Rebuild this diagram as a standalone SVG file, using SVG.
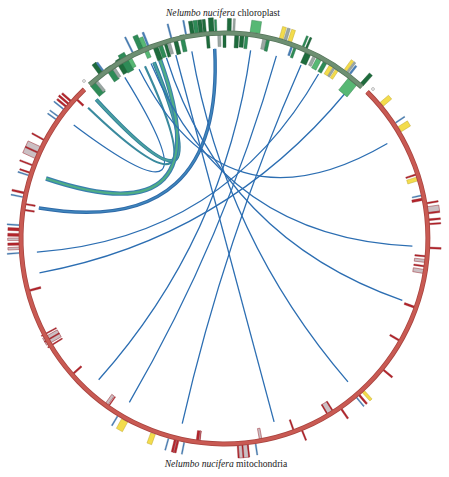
<svg xmlns="http://www.w3.org/2000/svg" width="449" height="477" viewBox="0 0 449 477">
<style>
.lk{fill:none;stroke:#2c6eb2;stroke-width:1.3}
.g1{fill:#1e6b3c;stroke:#15502c;stroke-width:.4}
.g2{fill:#2e8b57;stroke:#1f6a40;stroke-width:.4}
.g3{fill:#57b874;stroke:#2f7a48;stroke-width:.4}
.gr{fill:#9ba7a3;stroke:#6f7c78;stroke-width:.4}
.ye{fill:#f3dc4c;stroke:#b8a02a;stroke-width:.4}
.bl{fill:#4a7fb5;stroke:#3a6a9a;stroke-width:.3}
.r{fill:#b3242b;stroke:#8a181e;stroke-width:.3}
.pg{fill:#cbbfc3;stroke:#a0313a;stroke-width:.5}
.t{font-family:"Liberation Serif","Times New Roman",serif;font-size:9.6px;fill:#222;text-anchor:middle}
</style>
<rect width="449" height="477" fill="#fff"/>
<text class="t" x="223" y="16"><tspan font-style="italic">Nelumbo nucifera</tspan> chloroplast</text>
<text class="t" x="226" y="467"><tspan font-style="italic">Nelumbo nucifera</tspan> mitochondria</text>
<g transform="translate(224.5,238.5) scale(0.99,1)">
<g id="links">
<path class="lk" d="M-152.3 -113.5Q0 0 -100.7 -161.1"/>
<path d="M-137.8 -130.8Q0 0 -80.3 -172.2" fill="none" stroke="#3a8a9e" stroke-width="2.2"/>
<path d="M-129.6 -139Q0 0 -71.2 -176.2" fill="none" stroke="#2f7d9a" stroke-width="4"/>
<path d="M-129.6 -139Q0 0 -71.2 -176.2" fill="none" stroke="#4aa0a0" stroke-width="2"/>
<path d="M-180.3 -60Q0 0 -65 -178.5" fill="none" stroke="#3a7fae" stroke-width="4.5"/>
<path d="M-180.3 -60Q0 0 -65 -178.5" fill="none" stroke="#4fae86" stroke-width="2.2"/>
<path d="M-187.5 -30.4Q0 0 -9.9 -189.7" fill="none" stroke="#2f6aa8" stroke-width="3.5"/>
<path d="M-187.5 -30.4Q0 0 -9.9 -189.7" fill="none" stroke="#3f86bd" stroke-width="1.5"/>
<path class="lk" d="M-189.5 13.6Q0 0 95 -164.5"/>
<path class="lk" d="M-186.9 34.3Q0 0 122.1 -145.5"/>
<path class="lk" d="M-127.1 141.2Q0 0 26.4 -188.2"/>
<path class="lk" d="M-96.1 163.9Q0 0 52.4 -182.6"/>
<path class="lk" d="M-42.7 185.1Q0 0 77.3 -173.6"/>
<path class="lk" d="M50.1 183.3Q0 0 -49.2 -183.5"/>
<path class="lk" d="M124.7 143.4Q0 0 -33 -187.1"/>
<path class="lk" d="M179.6 61.9Q0 0 -58.7 -180.7"/>
<path class="lk" d="M189.8 7.6Q0 0 -74.2 -174.9"/>
<path class="lk" d="M164.5 -95Q0 0 -86.3 -169.3"/>
</g>
<g id="chloroplast-genes">
<rect class="g2" x="190" y="-4" width="14" height="8" transform="rotate(-130.5)"/>
<rect class="gr" x="191" y="-1.5" width="12" height="3" transform="rotate(-129.5)"/>
<rect class="g1" x="207" y="-2.5" width="12" height="5" transform="rotate(-127)"/>
<rect class="bl" x="208" y="-1" width="10" height="2" transform="rotate(-126.2)"/>
<rect class="g2" x="192" y="-3" width="16" height="6" transform="rotate(-124.5)"/>
<rect class="gr" x="193" y="-1.5" width="13" height="3" transform="rotate(-123.3)"/>
<rect class="g1" x="193" y="-3" width="16" height="6" transform="rotate(-121)"/>
<rect class="g2" x="192" y="-3.5" width="20" height="7" transform="rotate(-119.5)"/>
<rect class="g3" x="194" y="-2" width="14" height="4" transform="rotate(-118)"/>
<rect class="bl" x="208" y="-.75" width="17" height="1.5" transform="rotate(-116.5)"/>
<rect class="g2" x="205" y="-2.5" width="17" height="5" transform="rotate(-114)"/>
<rect class="g3" x="196" y="-2" width="22" height="4" transform="rotate(-112.8)"/>
<rect class="bl" x="207" y="-1" width="15" height="2" transform="rotate(-111.8)"/>
<rect class="g1" x="190" y="-2.5" width="14" height="5" transform="rotate(-110)"/>
<rect class="g2" x="191" y="-2" width="13" height="4" transform="rotate(-108.5)"/>
<rect class="g1" x="190" y="-1.5" width="14" height="3" transform="rotate(-107)"/>
<rect class="gr" x="192" y="-1.5" width="13" height="3" transform="rotate(-106)"/>
<rect class="bl" x="207" y="-.75" width="15" height="1.5" transform="rotate(-105)"/>
<rect class="g1" x="190" y="-2" width="17" height="4" transform="rotate(-104)"/>
<rect class="g2" x="191" y="-2" width="17" height="4" transform="rotate(-102)"/>
<rect class="bl" x="208" y="-.75" width="14" height="1.5" transform="rotate(-100.8)"/>
<rect class="g1" x="207" y="-2" width="13" height="4" transform="rotate(-99)"/>
<rect class="g2" x="207" y="-2" width="13" height="4" transform="rotate(-97.8)"/>
<rect class="g1" x="207" y="-2" width="13" height="4" transform="rotate(-96.6)"/>
<rect class="g1" x="207" y="-1.5" width="13" height="3" transform="rotate(-95.5)"/>
<rect class="g1" x="191" y="-1.5" width="13" height="3" transform="rotate(-94.8)"/>
<rect class="g1" x="207" y="-2.5" width="14" height="5" transform="rotate(-93.6)"/>
<rect class="g2" x="207" y="-1" width="12" height="2" transform="rotate(-92.4)"/>
<rect class="gr" x="192" y="-1.5" width="12" height="3" transform="rotate(-91.5)"/>
<rect class="g1" x="191" y="-1.5" width="13" height="3" transform="rotate(-90)"/>
<rect class="g1" x="207" y="-2" width="13" height="4" transform="rotate(-88.7)"/>
<rect class="gr" x="207" y="-1" width="13" height="2" transform="rotate(-87.4)"/>
<rect class="g1" x="191" y="-2" width="13" height="4" transform="rotate(-86.5)"/>
<rect class="g1" x="192" y="-2" width="12" height="4" transform="rotate(-85)"/>
<rect class="g2" x="191" y="-1.5" width="13" height="3" transform="rotate(-83.7)"/>
<rect class="g3" x="208" y="-5" width="12" height="10" transform="rotate(-81.5)"/>
<rect class="gr" x="193" y="-2" width="11" height="4" transform="rotate(-78.5)"/>
<rect class="g2" x="192" y="-1.5" width="12" height="3" transform="rotate(-77.5)"/>
<rect class="ye" x="208" y="-2" width="12" height="4" transform="rotate(-74)"/>
<rect class="gr" x="208" y="-1.5" width="12" height="3" transform="rotate(-72.8)"/>
<rect class="ye" x="208" y="-2" width="12" height="4" transform="rotate(-71.5)"/>
<rect class="bl" x="194" y="-1" width="10" height="2" transform="rotate(-70.5)"/>
<rect class="g2" x="193" y="-1.25" width="11" height="2.5" transform="rotate(-69.5)"/>
<rect class="g2" x="207" y="-1" width="12" height="2" transform="rotate(-67.5)"/>
<rect class="g1" x="207" y="-1" width="12" height="2" transform="rotate(-66.5)"/>
<rect class="g1" x="192" y="-3" width="12" height="6" transform="rotate(-65.5)"/>
<rect class="gr" x="193" y="-1.5" width="11" height="3" transform="rotate(-63.5)"/>
<rect class="g3" x="192" y="-2.5" width="12" height="5" transform="rotate(-62)"/>
<rect class="g2" x="192" y="-2" width="12" height="4" transform="rotate(-60)"/>
<rect class="ye" x="193" y="-2" width="11" height="4" transform="rotate(-58)"/>
<rect class="gr" x="193" y="-1" width="11" height="2" transform="rotate(-57)"/>
<rect class="ye" x="193" y="-1.5" width="11" height="3" transform="rotate(-56)"/>
<rect class="ye" x="208" y="-1.5" width="12" height="3" transform="rotate(-54)"/>
<rect class="gr" x="208" y="-1" width="12" height="2" transform="rotate(-53.2)"/>
<rect class="bl" x="208" y="-1" width="10" height="2" transform="rotate(-52.4)"/>
<rect class="g3" x="188" y="-5.5" width="16" height="11" transform="rotate(-50.5)"/>
<rect class="g1" x="207" y="-2" width="14" height="4" transform="rotate(-48)"/>
</g>
<g id="mitochondria-genes">
<rect class="r" x="207" y="-1" width="12" height="2" transform="rotate(-140.5)"/>
<rect class="r" x="207" y="-1" width="13" height="2" transform="rotate(-139.5)"/>
<rect class="r" x="207" y="-1" width="12" height="2" transform="rotate(-138.5)"/>
<rect class="bl" x="208" y="-.6" width="12" height="1.2" transform="rotate(-141.5)"/>
<rect class="r" x="195" y="-1" width="9" height="2" transform="rotate(-137)"/>
<rect class="bl" x="208" y="-.6" width="10" height="1.2" transform="rotate(-144)"/>
<rect class="bl" x="208" y="-.6" width="10" height="1.2" transform="rotate(-145)"/>
<rect class="pg" x="207" y="-6.5" width="14" height="13" transform="rotate(-155.5)"/>
<rect class="r" x="207" y="-.75" width="14" height="1.5" transform="rotate(-151.6)"/>
<rect class="r" x="207" y="-.75" width="14" height="1.5" transform="rotate(-155.5)"/>
<rect class="r" x="207" y="-.75" width="14" height="1.5" transform="rotate(-159.3)"/>
<rect class="r" x="207" y="-.75" width="11" height="1.5" transform="rotate(-161.5)"/>
<rect class="bl" x="208" y="-.6" width="11" height="1.2" transform="rotate(-162.3)"/>
<rect class="r" x="207" y="-1" width="13" height="2" transform="rotate(-167.3)"/>
<rect class="bl" x="208" y="-.6" width="12" height="1.2" transform="rotate(-168.5)"/>
<rect class="r" x="194" y="-.75" width="10" height="1.5" transform="rotate(-170.3)"/>
<rect class="r" x="194" y="-.75" width="10" height="1.5" transform="rotate(-172)"/>
<rect class="bl" x="208" y="-.6" width="12" height="1.2" transform="rotate(-176.3)"/>
<rect class="r" x="207" y="-1.5" width="12" height="3" transform="rotate(-177.5)"/>
<rect class="r" x="207" y="-1.5" width="12" height="3" transform="rotate(-179)"/>
<rect class="pg" x="207" y="-1.25" width="12" height="2.5" transform="rotate(179.8)"/>
<rect class="r" x="207" y="-1.25" width="12" height="2.5" transform="rotate(178.5)"/>
<rect class="pg" x="207" y="-1.25" width="12" height="2.5" transform="rotate(177.3)"/>
<rect class="bl" x="208" y="-.6" width="12" height="1.2" transform="rotate(176)"/>
<rect class="r" x="192" y="-1" width="12" height="2" transform="rotate(165.2)"/>
<rect class="pg" x="192" y="-4" width="17" height="8" transform="rotate(150.4)"/>
<rect class="r" x="192" y="-.6" width="17" height="1.2" transform="rotate(148.6)"/>
<rect class="r" x="192" y="-.6" width="17" height="1.2" transform="rotate(150.4)"/>
<rect class="r" x="192" y="-.6" width="17" height="1.2" transform="rotate(152.2)"/>
<rect class="r" x="193" y="-.9" width="11" height="1.8" transform="rotate(138.5)"/>
<rect class="pg" x="193" y="-1.5" width="11" height="3" transform="rotate(125.7)"/>
<rect class="r" x="193" y="-.5" width="11" height="1" transform="rotate(124.9)"/>
<rect class="ye" x="208" y="-3.5" width="11" height="7" transform="rotate(119)"/>
<rect class="bl" x="208" y="-.6" width="11" height="1.2" transform="rotate(121.3)"/>
<rect class="ye" x="208" y="-2.5" width="11" height="5" transform="rotate(110.3)"/>
<rect class="r" x="207" y="-2.5" width="13" height="5" transform="rotate(103.5)"/>
<rect class="pg" x="207" y="-.4" width="13" height=".8" transform="rotate(103.5)"/>
<rect class="bl" x="208" y="-.6" width="12" height="1.2" transform="rotate(105.8)"/>
<rect class="bl" x="208" y="-.6" width="12" height="1.2" transform="rotate(101.3)"/>
<rect class="r" x="194" y="-2" width="10" height="4" transform="rotate(97.5)"/>
<rect class="pg" x="194" y="-.5" width="10" height="1" transform="rotate(97.2)"/>
<rect class="pg" x="207" y="-5" width="13" height="10" transform="rotate(84.8)"/>
<rect class="r" x="207" y="-.6" width="13" height="1.2" transform="rotate(83.5)"/>
<rect class="r" x="207" y="-.6" width="13" height="1.2" transform="rotate(85)"/>
<rect class="r" x="207" y="-.6" width="13" height="1.2" transform="rotate(86.3)"/>
<rect class="bl" x="208" y="-.6" width="11" height="1.2" transform="rotate(81.3)"/>
<rect class="pg" x="193" y="-1.25" width="11" height="2.5" transform="rotate(79.7)"/>
<rect class="r" x="193" y="-.75" width="11" height="1.5" transform="rotate(70)"/>
<rect class="r" x="207" y="-.75" width="11" height="1.5" transform="rotate(67.8)"/>
<rect class="pg" x="193" y="-3" width="12" height="6" transform="rotate(58.5)"/>
<rect class="r" x="193" y="-.6" width="12" height="1.2" transform="rotate(57.6)"/>
<rect class="r" x="193" y="-.6" width="12" height="1.2" transform="rotate(59.4)"/>
<rect class="r" x="207" y="-.9" width="12" height="1.8" transform="rotate(55.3)"/>
<rect class="ye" x="207" y="-1.5" width="12" height="3" transform="rotate(47.5)"/>
<rect class="r" x="207" y="-1" width="12" height="2" transform="rotate(49)"/>
<rect class="bl" x="207" y="-.6" width="12" height="1.2" transform="rotate(50)"/>
<rect class="r" x="207" y="-.9" width="12" height="1.8" transform="rotate(39.3)"/>
<rect class="r" x="193" y="-.9" width="11" height="1.8" transform="rotate(30)"/>
<rect class="r" x="193" y="-1" width="11" height="2" transform="rotate(19.7)"/>
<rect class="pg" x="193" y="-2" width="11" height="4" transform="rotate(9.3)"/>
<rect class="r" x="193" y="-.75" width="11" height="1.5" transform="rotate(7.8)"/>
<rect class="pg" x="193" y="-1.5" width="11" height="3" transform="rotate(6.3)"/>
<rect class="r" x="193" y="-.75" width="11" height="1.5" transform="rotate(5)"/>
<rect class="r" x="207" y="-.9" width="12" height="1.8" transform="rotate(2.6)"/>
<rect class="pg" x="207" y="-3" width="12" height="6" transform="rotate(-8)"/>
<rect class="r" x="207" y="-.75" width="12" height="1.5" transform="rotate(-9.8)"/>
<rect class="r" x="207" y="-.75" width="12" height="1.5" transform="rotate(-7)"/>
<rect class="r" x="207" y="-.9" width="12" height="1.8" transform="rotate(-5.2)"/>
<rect class="r" x="207" y="-.75" width="12" height="1.5" transform="rotate(-4)"/>
<rect class="r" x="193" y="-1.25" width="11" height="2.5" transform="rotate(-11.1)"/>
<rect class="bl" x="194" y="-.6" width="10" height="1.2" transform="rotate(-12.2)"/>
<rect class="ye" x="193" y="-2" width="11" height="4" transform="rotate(-17)"/>
<rect class="r" x="193" y="-.75" width="11" height="1.5" transform="rotate(-18.3)"/>
<rect class="ye" x="208" y="-3" width="11" height="6" transform="rotate(-31.7)"/>
<rect class="bl" x="208" y="-.6" width="11" height="1.2" transform="rotate(-33.8)"/>
<rect class="ye" x="208" y="-2.5" width="11" height="5" transform="rotate(-40.2)"/>
</g>
<g id="chloroplast">
<path d="M-136.2 -153.9A205.5 205.5 0 0 1 138.8 -151.5" fill="none" stroke="#55745a" stroke-width="5.2"/>
<path d="M-136.2 -153.9A205.5 205.5 0 0 1 138.8 -151.5" fill="none" stroke="#6d8f72" stroke-width="3.6"/>
</g>
<g id="mitochondria">
<path d="M144 -146.6A205.5 205.5 0 1 1 -141.5 -149.1" fill="none" stroke="#a8443f" stroke-width="5"/>
<path d="M144 -146.6A205.5 205.5 0 1 1 -141.5 -149.1" fill="none" stroke="#c95a53" stroke-width="3.4"/>
</g>
</g>
<circle cx="84" cy="81" r="1.4" fill="#fff" stroke="#888" stroke-width=".6"/>
<circle cx="373" cy="89" r="1.4" fill="#fff" stroke="#888" stroke-width=".6"/>
</svg>
